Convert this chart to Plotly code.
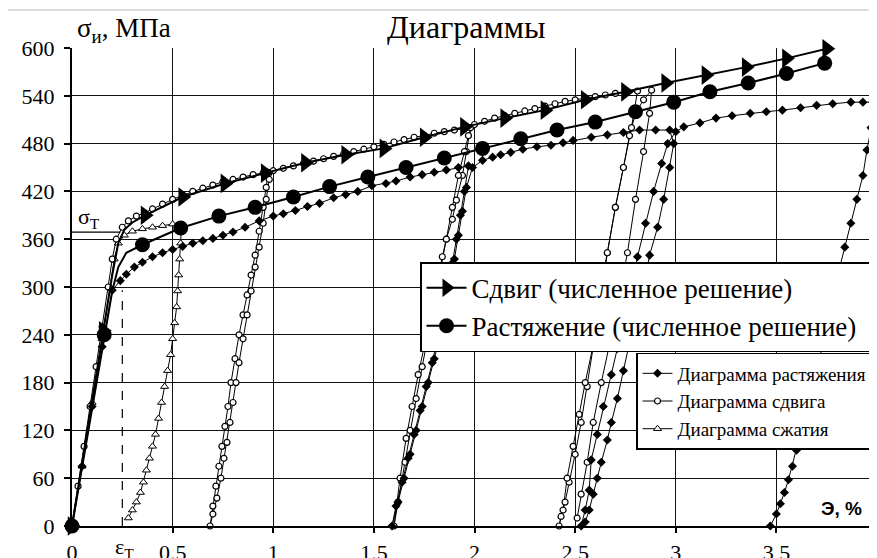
import plotly.graph_objects as go

# ---------------- data (strain %, stress MPa) ----------------
# numerical solution: shear (curve and marker points)
shear_num_x = [0, 0.155, 0.2, 0.23, 0.26, 0.3, 0.363, 0.55, 0.76, 0.96, 1.16, 1.36, 1.55, 1.75, 1.95,
               2.15, 2.35, 2.55, 2.75, 2.95, 3.15, 3.35, 3.55, 3.75, 3.95, 4.0]
shear_num_y = [0, 245, 315, 355, 372, 381, 390, 413, 430, 443, 456, 466, 474, 488, 501,
               512, 522, 535, 545, 556, 566, 576, 587, 599, 609, 611]
shear_num_mx = [0, 0.155, 0.363, 0.55, 0.76, 0.96, 1.16, 1.36, 1.55, 1.75, 1.95,
                2.15, 2.35, 2.55, 2.75, 2.95, 3.15, 3.35, 3.55, 3.75, 3.95]
shear_num_my = [0, 245, 390, 413, 430, 443, 456, 466, 474, 488, 501,
                512, 522, 535, 545, 556, 566, 576, 587, 599, 609]

# numerical solution: tension (curve and marker points)
tens_num_x = [0, 0.16, 0.2, 0.23, 0.27, 0.35, 0.54, 0.73, 0.91, 1.10, 1.28, 1.47, 1.66, 1.85,
              2.04, 2.23, 2.41, 2.60, 2.80, 2.99, 3.17, 3.36, 3.55, 3.74]
tens_num_y = [0, 240, 295, 325, 343, 353, 374, 389, 400, 413, 426, 438, 450, 462,
              474, 486, 497, 507, 520, 532, 545, 556, 568, 581]
tens_num_mx = [0, 0.16, 0.35, 0.54, 0.73, 0.91, 1.10, 1.28, 1.47, 1.66, 1.85,
               2.04, 2.23, 2.41, 2.60, 2.80, 2.99, 3.17, 3.36, 3.55, 3.74]
tens_num_my = [0, 240, 353, 374, 389, 400, 413, 426, 438, 450, 462,
               474, 486, 497, 507, 520, 532, 545, 556, 568, 581]

# experiment: tension diagram (loading, unloading, reloading)
tens_exp_x = [0, 0.05, 0.1, 0.15, 0.2, 0.24, 0.27, 0.31, 0.35, 0.4, 0.45, 0.5, 0.55, 0.6, 0.65, 0.7,
              0.75, 0.8, 0.86, 0.93, 1.0, 1.05, 1.11, 1.17, 1.23, 1.3, 1.36, 1.42, 1.49, 1.56, 1.61,
              1.68, 1.74, 1.8, 1.86, 1.92, 1.97,
              1.95, 1.93, 1.91, 1.89, 1.87, 1.85, 1.83, 1.80, 1.77, 1.74, 1.71, 1.68, 1.65, 1.62, 1.59,
              1.61, 1.64, 1.67, 1.70, 1.73, 1.76, 1.79, 1.82, 1.85, 1.88, 1.90, 1.92, 1.94, 1.96, 1.99,
              2.04, 2.09, 2.13, 2.18, 2.24, 2.31, 2.38, 2.44, 2.49, 2.58, 2.66, 2.74, 2.82, 2.9, 2.97,
              2.99, 2.97, 2.94, 2.91, 2.87, 2.84, 2.81, 2.77, 2.74, 2.71, 2.68, 2.66, 2.63, 2.61, 2.59,
              2.57, 2.55, 2.53,
              2.55, 2.57, 2.58, 2.61, 2.64, 2.68, 2.71, 2.74, 2.78, 2.81, 2.85, 2.89, 2.93, 2.96, 3.0,
              3.04, 3.12, 3.2, 3.28, 3.37, 3.45, 3.53, 3.62, 3.7, 3.78, 3.87, 3.93, 3.98,
              3.99, 3.97, 3.95, 3.93, 3.90, 3.87, 3.84, 3.81, 3.78, 3.75, 3.73, 3.70, 3.67, 3.64,
              3.62, 3.60, 3.58, 3.56, 3.54, 3.52, 3.50, 3.47]
tens_exp_y = [0, 75, 150, 225, 296, 308, 316, 325, 331, 338, 343, 347, 351, 355, 358, 361,
              365, 369, 375, 383, 389, 392, 396, 401, 405, 412, 416, 420, 427, 430, 433,
              438, 441, 444, 447, 450, 452,
              420, 390, 360, 330, 300, 270, 240, 210, 180, 150, 120, 90, 60, 30, 0,
              25, 55, 85, 115, 145, 175, 205, 240, 270, 305, 335, 365, 395, 425, 450,
              459, 463, 466, 469, 473, 476, 478, 481, 484, 488, 491, 494, 497, 497, 497,
              480, 450, 410, 375, 340, 300, 265, 230, 195, 160, 130, 108, 80, 60, 40,
              20, 5, 0,
              20, 45, 83, 115, 150, 190, 223, 260, 300, 338, 380, 420, 455, 480, 495,
              501, 506, 512, 515, 518, 520, 522, 525, 528, 530, 532, 532, 532,
              525, 500, 472, 440, 410, 380, 350, 320, 290, 255, 227, 195, 165, 135,
              115, 95, 75, 58, 42, 28, 15, 0]

# experiment: shear diagram
shear_exp_x = [0, 0.03, 0.06, 0.09, 0.12, 0.15, 0.18, 0.2, 0.22, 0.25, 0.28, 0.32, 0.36, 0.4, 0.45,
               0.5, 0.55, 0.6, 0.65, 0.7, 0.75, 0.8, 0.85, 0.9, 0.95, 0.975,
               0.965, 0.95, 0.93, 0.91, 0.89, 0.87, 0.85, 0.83, 0.81, 0.79, 0.775, 0.76, 0.745, 0.73,
               0.715, 0.70, 0.686,
               0.70, 0.72, 0.74, 0.755, 0.77, 0.785, 0.80, 0.815, 0.83, 0.85, 0.87, 0.89, 0.91, 0.93,
               0.95, 0.965, 0.98, 1.0,
               1.05, 1.1, 1.15, 1.2, 1.25, 1.3, 1.35, 1.4, 1.45, 1.5, 1.55, 1.6, 1.65, 1.7, 1.75,
               1.8, 1.85, 1.9, 1.95, 1.98,
               1.96, 1.94, 1.91, 1.89, 1.86, 1.84, 1.81, 1.78, 1.75, 1.72, 1.69, 1.66, 1.63, 1.60,
               1.62, 1.655, 1.68, 1.71, 1.74, 1.77, 1.80, 1.83, 1.86, 1.89, 1.92, 1.95, 1.97, 2.0,
               2.05, 2.1, 2.15, 2.2, 2.25, 2.3, 2.35, 2.4, 2.45, 2.5, 2.55, 2.6, 2.65, 2.7, 2.75, 2.81,
               2.78, 2.74, 2.70, 2.66, 2.62, 2.59, 2.56, 2.53, 2.50, 2.47, 2.45, 2.43, 2.42,
               2.44, 2.46, 2.49, 2.52, 2.55, 2.59, 2.62, 2.66, 2.70, 2.74, 2.77, 2.80, 2.84, 2.88,
               2.87, 2.84, 2.80, 2.76, 2.72, 2.67, 2.63, 2.59, 2.56, 2.53, 2.51]
shear_exp_y = [0, 50, 100, 150, 200, 250, 300, 335, 360, 375, 383, 389, 393, 398, 404,
               410, 415, 420, 424, 428, 432, 435, 438, 441, 443, 444,
               425, 400, 370, 340, 315, 290, 265, 240, 210, 180, 150, 125, 100, 75,
               50, 25, 0,
               15, 35, 60, 85, 105, 130, 155, 180, 205, 235, 265, 295, 325, 350,
               380, 410, 435, 446,
               449, 452, 455, 458, 461, 464, 467, 470, 473, 476, 479, 482, 485, 488, 490,
               493, 495, 497, 499, 500,
               470, 440, 409, 385, 360, 338, 300, 260, 225, 190, 150, 110, 60, 0,
               30, 80, 120, 160, 200, 240, 280, 320, 360, 400, 440, 470, 490, 504,
               508, 512, 515, 518, 521, 524, 527, 530, 533, 535, 537, 539, 541, 543, 545, 546,
               500, 450, 400, 343, 290, 225, 175, 130, 90, 55, 30, 12, 0,
               20, 60, 100, 140, 180, 227, 270, 343, 400, 450, 490, 518, 535, 547,
               518, 470, 410, 343, 290, 227, 180, 130, 80, 40, 10]

# experiment: compression diagram
comp_exp_x = [0, 0.05, 0.1, 0.15, 0.19, 0.21, 0.23, 0.26, 0.3, 0.35, 0.4, 0.45, 0.5, 0.545,
              0.54, 0.535, 0.53, 0.525, 0.52, 0.51, 0.50, 0.49, 0.475, 0.46, 0.445, 0.43, 0.415,
              0.40, 0.385, 0.37, 0.355, 0.34, 0.32, 0.30, 0.28]
comp_exp_y = [0, 75, 155, 235, 300, 335, 355, 365, 370, 373, 375, 377, 379, 378,
              355, 335, 315, 295, 275, 255, 235, 215, 195, 175, 155, 135, 115,
              100, 85, 70, 55, 42, 30, 20, 10]

x_tickvals = [0, 0.5, 1, 1.5, 2, 2.5, 3, 3.5, 4]
x_ticktext = ["0", "0.5", "1", "1.5", "2", "2,5", "3", "3,5", "4"]
y_tickvals = [0, 60, 120, 180, 240, 300, 360, 420, 480, 540, 600]

sigma_t = 369
eps_t = 0.25

SERIF = "Liberation Serif"
PAD1 = "\u00a0\u00a0"  # widen legend boxes so they reach the right edge, as in the original
PAD2 = "\u00a0"
fig = go.Figure()

# experimental curves
fig.add_trace(go.Scatter(x=comp_exp_x, y=comp_exp_y, mode="lines+markers", name="Диаграмма сжатия",
                         line=dict(color="black", width=1),
                         marker=dict(symbol="triangle-up", size=7, color="white",
                                     line=dict(color="black", width=1)),
                         legend="legend2", legendrank=3, cliponaxis=False))
fig.add_trace(go.Scatter(x=shear_exp_x, y=shear_exp_y, mode="lines+markers", name="Диаграмма сдвига",
                         line=dict(color="black", width=1),
                         marker=dict(symbol="circle", size=6, color="white",
                                     line=dict(color="black", width=1.2)),
                         legend="legend2", legendrank=2, cliponaxis=False))
fig.add_trace(go.Scatter(x=tens_exp_x, y=tens_exp_y, mode="lines+markers",
                         name="Диаграмма растяжения" + PAD2,
                         line=dict(color="black", width=1),
                         marker=dict(symbol="diamond", size=7, color="black"),
                         legend="legend2", legendrank=1, cliponaxis=False))

# numerical curves
fig.add_trace(go.Scatter(x=tens_num_x, y=tens_num_y, mode="lines", line=dict(color="black", width=2),
                         showlegend=False, cliponaxis=False, hoverinfo="skip"))
fig.add_trace(go.Scatter(x=tens_num_mx, y=tens_num_my, mode="markers",
                         marker=dict(symbol="circle", size=15, color="black"),
                         showlegend=False, cliponaxis=False))
fig.add_trace(go.Scatter(x=shear_num_x, y=shear_num_y, mode="lines", line=dict(color="black", width=2),
                         showlegend=False, cliponaxis=False, hoverinfo="skip"))
fig.add_trace(go.Scatter(x=shear_num_mx, y=shear_num_my, mode="markers",
                         marker=dict(symbol="triangle-right", size=17, color="black"),
                         showlegend=False, cliponaxis=False))
# legend entries for numerical curves
fig.add_trace(go.Scatter(x=[None], y=[None], mode="lines+markers", name="Сдвиг (численное решение)",
                         line=dict(color="black", width=2),
                         marker=dict(symbol="triangle-right", size=16, color="black"),
                         legend="legend", legendrank=1))
fig.add_trace(go.Scatter(x=[None], y=[None], mode="lines+markers",
                         name="Растяжение (численное решение)" + PAD1,
                         line=dict(color="black", width=2),
                         marker=dict(symbol="circle", size=15, color="black"),
                         legend="legend", legendrank=2))

# yield markers
fig.add_trace(go.Scatter(x=[0, 0.24], y=[sigma_t, sigma_t], mode="lines",
                         line=dict(color="black", width=1.2), showlegend=False, hoverinfo="skip"))
fig.add_trace(go.Scatter(x=[eps_t, eps_t], y=[0, 296], mode="lines",
                         line=dict(color="black", width=1.2, dash="dash"), showlegend=False, hoverinfo="skip"))

# the page body has an 8px margin, so the figure is 8px smaller than the window
fig.update_layout(
    width=869, height=550,
    margin=dict(l=64, r=0, t=40, b=32, autoexpand=False),
    paper_bgcolor="white", plot_bgcolor="white",
    font=dict(family=SERIF, color="black", size=22),
    xaxis=dict(range=[0, 4], tickvals=x_tickvals, ticktext=x_ticktext,
               showgrid=True, gridcolor="#111111", gridwidth=1.3,
               showline=True, linecolor="black", linewidth=2, mirror=False,
               ticks="outside", ticklen=5, tickcolor="black", tickwidth=1.5,
               ticklabelstandoff=1, automargin=False,
               zeroline=False, tickfont=dict(family=SERIF, size=22)),
    yaxis=dict(range=[0, 600], tickvals=y_tickvals,
               showgrid=True, gridcolor="#111111", gridwidth=1.3,
               showline=True, linecolor="black", linewidth=2,
               ticks="outside", ticklen=6, tickcolor="black", tickwidth=1.5,
               ticklabelstandoff=5, automargin=False,
               zeroline=False, tickfont=dict(family=SERIF, size=22)),
    legend=dict(x=1.0, y=0.552, xanchor="right", yanchor="top",
                bgcolor="white", bordercolor="black", borderwidth=1.5,
                font=dict(family=SERIF, size=27), tracegroupgap=0, itemwidth=40),
    legend2=dict(x=1.0, y=0.362, xanchor="right", yanchor="top",
                 bgcolor="white", bordercolor="black", borderwidth=1.5,
                 font=dict(family=SERIF, size=19), tracegroupgap=0),
    showlegend=True,
    annotations=[
        dict(text="Диаграммы", x=0.489, y=1.044, xref="paper", yref="paper",
             showarrow=False, font=dict(family=SERIF, size=32), xanchor="center", yanchor="middle"),
        dict(text="σ<sub>и</sub>, МПа", x=0.004, y=1.038, xref="paper", yref="paper",
             showarrow=False, font=dict(family=SERIF, size=27), xanchor="left", yanchor="middle"),
        dict(text="<b>Э, %</b>", x=3.825, y=21.5, xref="x", yref="y",
             showarrow=False, font=dict(family="Liberation Sans", size=19),
             xanchor="center", yanchor="middle"),
        dict(text="ε<sub>Т</sub>", x=0.26, y=-0.046, xref="x", yref="paper",
             showarrow=False, font=dict(family=SERIF, size=22), xanchor="center", yanchor="middle"),
        dict(text="σ<sub>Т</sub>", x=0.085, y=386, xref="x", yref="y",
             showarrow=False, font=dict(family=SERIF, size=22), xanchor="center", yanchor="middle"),
    ],
    shapes=[dict(type="line", xref="paper", yref="paper", x0=-0.0795, x1=1.0, y0=1.0795, y1=1.0795,
                 line=dict(color="#dddddd", width=2))],
)

fig.write_html("out.html")
